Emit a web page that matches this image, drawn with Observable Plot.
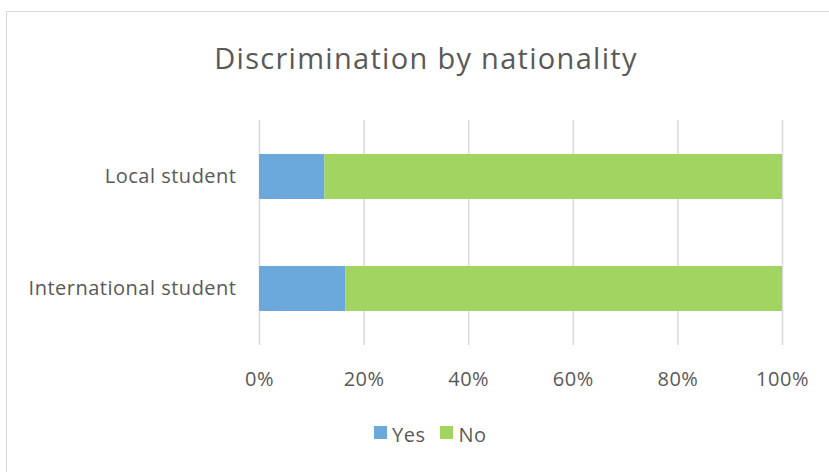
<!DOCTYPE html>
<html>
<head>
<meta charset="utf-8">
<script src="https://cdn.jsdelivr.net/npm/d3@7"></script>
<script src="https://cdn.jsdelivr.net/npm/@observablehq/plot@0.6"></script>
<style>
  html, body { margin: 0; padding: 0; background: #fff; }
  body { width: 829px; height: 472px; position: relative; overflow: hidden; font-family: "Open Sans", sans-serif; color: #595959; }
  #frame { position: absolute; left: 6px; top: 11px; width: 900px; height: 520px; border: 1px solid #d9d9d9; box-sizing: border-box; }
  #title { position: absolute; left: 0; width: 852px; top: 43px; text-align: center; font-size: 29px; letter-spacing: 1.3px; line-height: 1; color: #595959; white-space: nowrap; }
  #chart { position: absolute; left: 0; top: 100px; }
  #legend { position: absolute; left: 374px; top: 425px; display: flex; align-items: flex-start; font-size: 20px; letter-spacing: 0.5px; line-height: 1; color: #595959; }
  #legend .sw { width: 13px; height: 13px; display: inline-block; margin-right: 5px; margin-top: 1px; }
  #legend .item { display: flex; align-items: flex-start; margin-right: 15px; }
</style>
</head>
<body>
<div id="frame"></div>
<div id="title">Discrimination by nationality</div>
<div id="chart"></div>
<div id="legend"></div>
<script>
const categories = ["Local student", "International student"];
const responses = ["Yes", "No"];
const yesValues = [12.5, 16.5];
const noValues = [87.5, 83.5];
const xTicks = [0, 20, 40, 60, 80, 100];
const colors = ["#6ba8dc", "#a2d461"];

const rows = [];
categories.forEach((c, i) => {
  rows.push({category: c, response: "Yes", value: yesValues[i]});
  rows.push({category: c, response: "No", value: noValues[i]});
});

const chart = Plot.plot({
  width: 829,
  height: 300,
  marginTop: 20,
  marginBottom: 55,
  marginLeft: 259,
  marginRight: 47,
  style: {fontFamily: "Open Sans, sans-serif", fontSize: "20px", letterSpacing: "0.5px", color: "#595959", background: "transparent"},
  x: {domain: [0, 100], ticks: xTicks, tickFormat: d => d + "%", tickSize: 0, tickPadding: 26, label: null},
  y: {domain: categories, paddingInner: 0.6, paddingOuter: 0.3, tickSize: 0, tickPadding: 23, label: null},
  color: {domain: responses, range: colors},
  marks: [
    Plot.ruleX(xTicks, {stroke: "#d9d9d9", strokeWidth: 1.5}),
    Plot.barX(rows, Plot.stackX({x: "value", y: "category", fill: "response", order: null}))
  ]
});
document.getElementById("chart").appendChild(chart);

const legend = document.getElementById("legend");
responses.forEach((r, i) => {
  const item = document.createElement("span");
  item.className = "item";
  const sw = document.createElement("span");
  sw.className = "sw";
  sw.style.background = colors[i];
  item.appendChild(sw);
  item.appendChild(document.createTextNode(r));
  legend.appendChild(item);
});
</script>
</body>
</html>
